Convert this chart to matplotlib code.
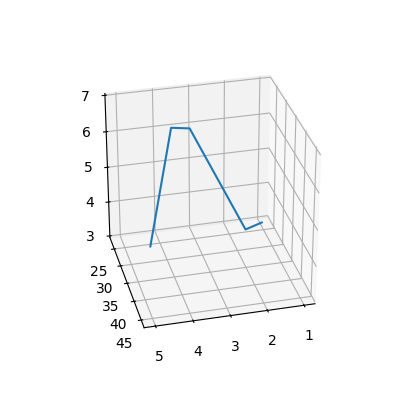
import matplotlib
matplotlib.use("Agg")
import matplotlib.pyplot as plt

x = [1, 2, 3, 4, 5]
y = [24, 34.5, 22, 34, 44.5]
z = [3.07, 4, 5.87, 7, 4.9]

fig = plt.figure(figsize=(4, 4), dpi=100)
ax = fig.add_subplot(111, projection='3d')
ax.plot(x, y, z)
ax.set_xlim(0.7, 5.3)
ax.set_ylim(21.5, 47)
ax.set_zlim(2.95, 7.05)
ax.set_xticks([1, 2, 3, 4, 5])
ax.set_yticks([25, 30, 35, 40, 45])
ax.set_zticks([3, 4, 5, 6, 7])
ax.set_box_aspect((1, 1, 0.98), zoom=0.94)
ax.view_init(elev=30, azim=76)
plt.savefig("out.png", dpi=100)
